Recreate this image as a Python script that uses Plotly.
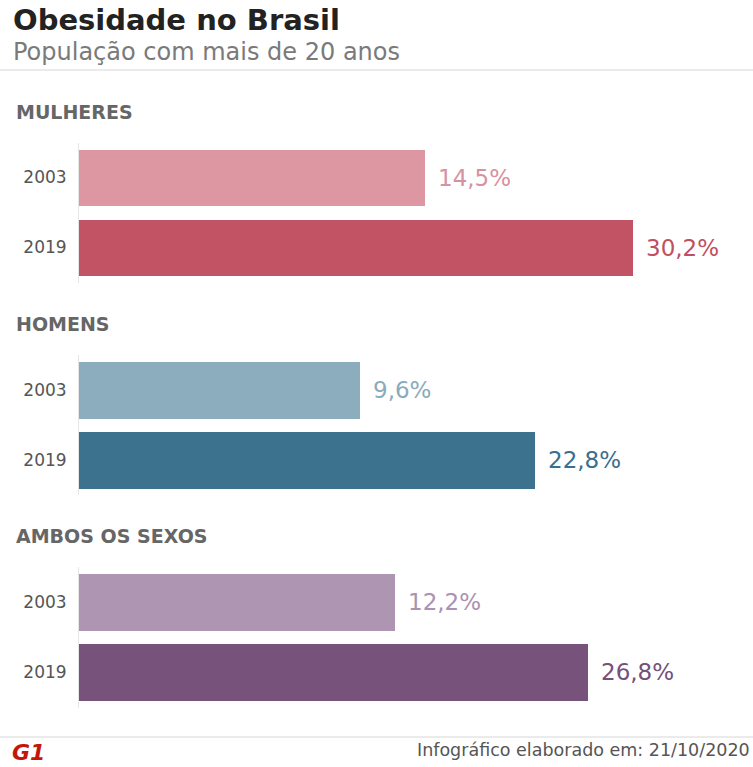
import plotly.graph_objects as go
from plotly.subplots import make_subplots

W, H = 753, 767

# ---- data ----
groups = ["MULHERES", "HOMENS", "AMBOS OS SEXOS"]
years = ["2003", "2019"]
mulheres = [14.5, 30.2]
homens = [9.6, 22.8]
ambos = [12.2, 26.8]
labels_mulheres = ["14,5%", "30,2%"]
labels_homens = ["9,6%", "22,8%"]
labels_ambos = ["12,2%", "26,8%"]

values = [mulheres, homens, ambos]
labels = [labels_mulheres, labels_homens, labels_ambos]
bar_colors = [["#dc97a2", "#c25365"], ["#8badbe", "#3d728f"], ["#ae96b2", "#77527b"]]
text_colors = [["#d891a0", "#c04f62"], ["#88abbd", "#3a6f8d"], ["#ab92b0", "#74507a"]]

# the infographic's value axis does not start at zero
AXIS_MIN, AXIS_MAX = -11.62, 39.25
ypos = list(range(len(years)))

fig = make_subplots(rows=3, cols=1, shared_xaxes=False)

# pixel domains (top, bottom) for each group's axis
ydoms_px = [(142.5, 282.5), (354.5, 495.0), (566.5, 707.5)]
heading_y_px = [112, 324, 536]

x_dom = [79 / W, 1.0]

for i in range(3):
    r = i + 1
    # bars run from the axis start (AXIS_MIN) up to each value
    fig.add_trace(go.Bar(
        x=[v - AXIS_MIN for v in values[i]], y=ypos, orientation="h",
        base=AXIS_MIN,
        marker=dict(color=bar_colors[i], line=dict(width=0)),
        width=0.814, hoverinfo="skip", showlegend=False,
    ), row=r, col=1)
    xa = "x" if i == 0 else f"x{r}"
    ya = "y" if i == 0 else f"y{r}"
    top, bot = ydoms_px[i]
    fig.layout[f"yaxis{'' if i == 0 else r}"].update(
        domain=[1 - bot / H, 1 - top / H],
        range=[len(years) - 0.5, -0.5],
        tickmode="array", tickvals=ypos, ticktext=years,
        showline=True, linecolor="#e6e6e6", linewidth=1,
        showgrid=False, zeroline=False, ticks="",
        ticklabelstandoff=8, fixedrange=True,
        tickfont=dict(family="DejaVu Sans", size=17, color="#555555"),
    )
    fig.layout[f"xaxis{'' if i == 0 else r}"].update(
        domain=x_dom, range=[AXIS_MIN, AXIS_MAX],
        visible=False, fixedrange=True,
    )
    for j in range(len(years)):
        fig.add_annotation(
            x=values[i][j], y=ypos[j], xref=xa, yref=ya,
            text=labels[i][j], showarrow=False, xanchor="left", yanchor="middle",
            xshift=11,
            font=dict(family="DejaVu Sans", size=23, color=text_colors[i][j]),
        )
    fig.add_annotation(
        x=14 / W, y=1 - heading_y_px[i] / H, xref="paper", yref="paper",
        text=f"<b>{groups[i]}</b>", showarrow=False, xanchor="left", yanchor="middle",
        font=dict(family="DejaVu Sans", size=19, color="#666666"),
    )

# title & subtitle
fig.add_annotation(x=11 / W, y=1 - 20 / H, xref="paper", yref="paper",
                   text="<b>Obesidade no Brasil</b>", showarrow=False,
                   xanchor="left", yanchor="middle",
                   font=dict(family="DejaVu Sans", size=29, color="#222222"))
fig.add_annotation(x=11 / W, y=1 - 52 / H, xref="paper", yref="paper",
                   text="População com mais de 20 anos", showarrow=False,
                   xanchor="left", yanchor="middle",
                   font=dict(family="DejaVu Sans", size=24, color="#7a7a7a"))

# separators
fig.add_shape(type="line", xref="paper", yref="paper", x0=0, x1=1,
              y0=1 - 70 / H, y1=1 - 70 / H, line=dict(color="#ebebeb", width=2))
fig.add_shape(type="line", xref="paper", yref="paper", x0=0, x1=1,
              y0=1 - 737 / H, y1=1 - 737 / H, line=dict(color="#ebebeb", width=2))

# footer
fig.add_annotation(x=10 / W, y=1 - 752 / H, xref="paper", yref="paper",
                   text="<b><i>G1</i></b>", showarrow=False, xanchor="left", yanchor="middle",
                   font=dict(family="DejaVu Sans", size=22, color="#c4170c"))
fig.add_annotation(x=415 / W, y=1 - 750 / H, xref="paper", yref="paper",
                   text="Infográfico elaborado em: 21/10/2020", showarrow=False,
                   xanchor="left", yanchor="middle",
                   font=dict(family="DejaVu Sans", size=17.5, color="#555555"))

fig.update_layout(
    width=W, height=H,
    margin=dict(l=0, r=0, t=0, b=0),
    paper_bgcolor="white", plot_bgcolor="white",
    bargap=0,
)

fig.write_html("out.html", config={"displayModeBar": False})
